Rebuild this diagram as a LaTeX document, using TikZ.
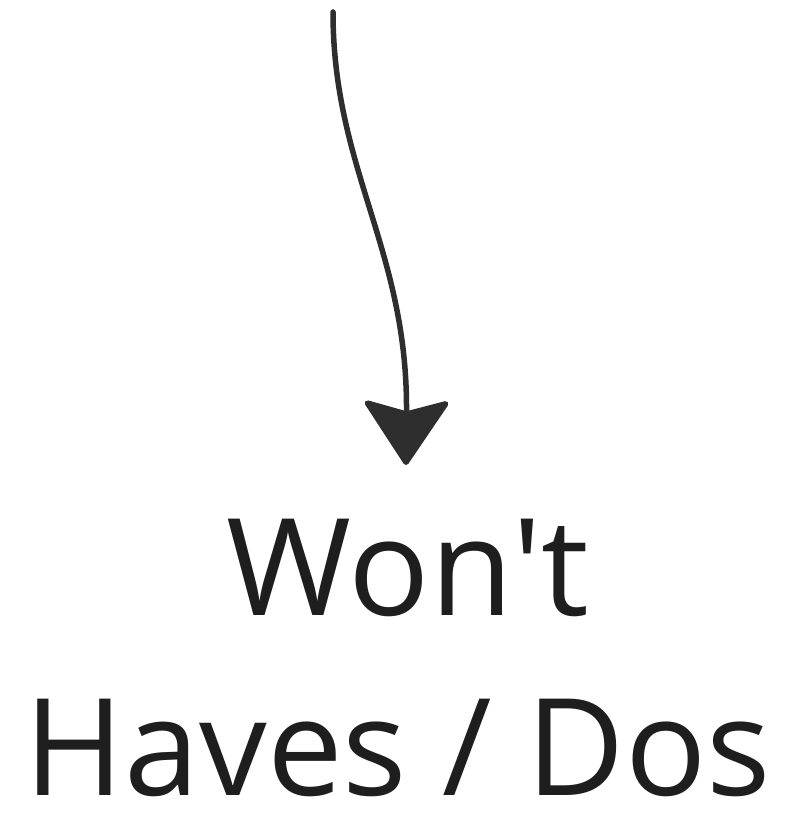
\documentclass[tikz,border=0pt]{standalone}
\usepackage{fontspec}
\setmainfont{Open Sans}[Ligatures=TeXOff]
\usetikzlibrary{arrows.meta}
\definecolor{ink}{HTML}{1E1E1E}
\definecolor{arrowink}{HTML}{2E2E2E}
\tikzset{
  lbl/.style={text=ink, font=\fontsize{135}{180}\selectfont, align=center, inner sep=0pt},
  flow/.style={draw=arrowink, line width=5.5pt, line cap=round,
    -{Stealth[length=68pt, width=90pt, inset=12pt, round]}}
}
\begin{document}
\begin{tikzpicture}[x=1pt,y=-1pt]
\useasboundingbox (0,0) rectangle (790,818);
\coordinate (src) at (333,12);
\coordinate (tip) at (406,465);
\node[lbl, anchor=base] (w1) at (408,615) {Won't};
\node[lbl, anchor=base] (w2) at (398,795) {Haves / Dos};
\draw[flow] (src) .. controls (333,170) and (408,250) .. (tip);
\end{tikzpicture}
\end{document}
